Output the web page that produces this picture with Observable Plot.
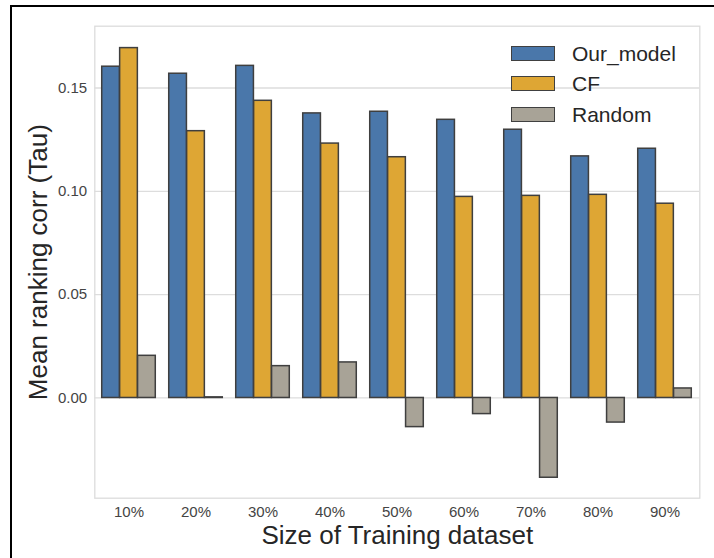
<!DOCTYPE html>
<html>
<head>
<meta charset="utf-8">
<script src="https://cdn.jsdelivr.net/npm/d3@7"></script>
<script src="https://cdn.jsdelivr.net/npm/@observablehq/plot@0.6"></script>
<style>
  html, body { margin: 0; padding: 0; background: #fff; overflow: hidden; }
  #wrap { position: relative; width: 714px; height: 558px; font-family: "Liberation Sans", Arial, sans-serif; }
  #frameOuter { position: absolute; left: 10px; top: 5px; width: 800px; height: 700px;
    border-left: 2px solid #000; border-top: 2px solid #000; pointer-events: none; }
  #legend { position: absolute; left: 511px; top: 38px; }
  .item { display: flex; align-items: center; height: 30.6px; }
  .sw { width: 42px; height: 13px; border: 1.3px solid #404040; margin-right: 17px; }
  .lab { font-size: 21px; color: #262626; line-height: 1; }
</style>
</head>
<body>
<div id="wrap"><div id="frameOuter"></div></div>
<script>
const categories = ["10%", "20%", "30%", "40%", "50%", "60%", "70%", "80%", "90%"];
const seriesNames = ["Our_model", "CF", "Random"];
const ourModel = [0.1603, 0.1569, 0.1607, 0.1377, 0.1385, 0.1346, 0.1298, 0.1169, 0.1206];
const cf       = [0.1693, 0.1291, 0.1438, 0.1231, 0.1165, 0.0973, 0.0978, 0.0983, 0.0940];
const random   = [0.0204, 0.0003, 0.0154, 0.0172, -0.0141, -0.0078, -0.0386, -0.0119, 0.0046];
const yTicks = [0, 0.05, 0.10, 0.15];
const colors = ["#4a77aa", "#dea634", "#a8a397"];

const seriesValues = [ourModel, cf, random];
const rows = [];
seriesNames.forEach((s, si) => categories.forEach((c, ci) => rows.push({series: s, cat: c, value: seriesValues[si][ci]})));

const W = 714, H = 558;
const mL = 94.3, mR = 14.7, mT = 25.7, mB = 60.3;
const bw = (W - mL - mR) / categories.length;
const group = 0.8 * bw, barW = group / 3;
const font = "Liberation Sans, Arial, sans-serif";

const barMarks = seriesNames.map((s, i) => {
  const insetLeft = (bw - group) / 2 + i * barW;
  const insetRight = bw - insetLeft - barW;
  return Plot.barY(rows.filter(d => d.series === s), {
    x: "cat", y: "value", fill: colors[i], stroke: "#3f3f3f", strokeWidth: 1.5,
    insetLeft, insetRight
  });
});

const chart = Plot.plot({
  width: W, height: H,
  marginLeft: mL, marginRight: mR, marginTop: mT, marginBottom: mB,
  style: {fontFamily: font, background: "transparent"},
  x: {type: "band", domain: categories, padding: 0, axis: null},
  y: {domain: [-0.0485, 0.1799], axis: null},
  marks: [
    Plot.gridY(yTicks, {stroke: "#dddddd", strokeOpacity: 1, strokeWidth: 1.3}),
    Plot.frame({stroke: "#dcdcdc", strokeWidth: 1.3}),
    ...barMarks,
    Plot.axisY({ticks: yTicks, tickFormat: d3.format(".2f"), tickSize: 0, tickPadding: 7.6, fontSize: 15, fill: "#444", label: null}),
    Plot.axisX({tickSize: 0, tickPadding: 8.3, fontSize: 15, fill: "#444", label: null}),
    Plot.text(["Size of Training dataset"], {frameAnchor: "bottom", dy: 45.6, lineAnchor: "bottom", fontSize: 26, fill: "#262626"}),
    Plot.text(["Mean ranking corr (Tau)"], {frameAnchor: "left", dx: -66, rotate: -90, textAnchor: "middle", lineAnchor: "top", fontSize: 26, fill: "#262626"})
  ]
});
const wrap = document.getElementById("wrap");
wrap.insertBefore(chart, wrap.firstChild);

const legend = document.createElement("div");
legend.id = "legend";
seriesNames.forEach((s, i) => {
  const item = document.createElement("div");
  item.className = "item";
  const sw = document.createElement("div");
  sw.className = "sw";
  sw.style.background = colors[i];
  const lab = document.createElement("span");
  lab.className = "lab";
  lab.textContent = s;
  item.appendChild(sw); item.appendChild(lab);
  legend.appendChild(item);
});
wrap.appendChild(legend);
</script>
</body>
</html>
